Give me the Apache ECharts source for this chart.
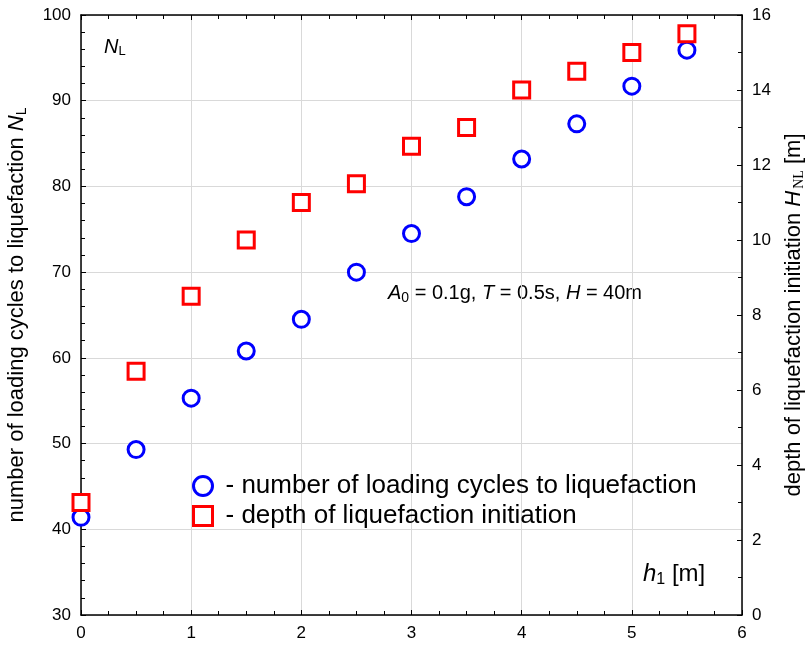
<!DOCTYPE html>
<html>
<head>
<meta charset="utf-8">
<script src="https://cdn.jsdelivr.net/npm/echarts@6/dist/echarts.min.js"></script>
<style>
  html, body { margin: 0; padding: 0; background: #fff; }
  #chart { width: 806px; height: 645px; }
</style>
</head>
<body>
<div id="chart"></div>
<script>
// depth of upper layer h1 [m]
const h1 = [0, 0.5, 1, 1.5, 2, 2.5, 3, 3.5, 4, 4.5, 5, 5.5];
// number of loading cycles to liquefaction N_L (left axis)
const cyclesNL = [41.4, 49.3, 55.3, 60.8, 64.5, 70.0, 74.5, 78.8, 83.2, 87.3, 91.7, 95.9];
// depth of liquefaction initiation H_NL [m] (right axis)
const depthHNL = [3.0, 6.5, 8.5, 10.0, 11.0, 11.5, 12.5, 13.0, 14.0, 14.5, 15.0, 15.5];

const seriesNames = ['number of loading cycles to liquefaction', 'depth of liquefaction initiation'];

const FONT = 'Liberation Sans, Arial, sans-serif';

let chart = echarts.init(document.getElementById('chart'));

function pairs(xs, ys) {
  return xs.map((x, i) => [x, ys[i]]);
}

const tickStyle = { show: true, inside: true, length: 5, lineStyle: { color: '#000', width: 1 } };
const axisLineStyle = { show: true, onZero: false, lineStyle: { color: '#000', width: 1.5 } };
const subRich = {
  i: { fontStyle: 'italic', fontSize: 22, fontFamily: FONT, color: '#000' },
  s: { fontSize: 14, fontFamily: FONT, color: '#000', padding: [10, 0, 0, 0] },
  ss: { fontSize: 14, fontFamily: 'Liberation Serif, serif', color: '#000', padding: [10, 0, 0, 2] }
};

chart.setOption({
  backgroundColor: '#fff',
  animation: false,
  grid: { left: 81, right: 64, top: 15, bottom: 30, outerBoundsMode: 'none', containLabel: false },
  xAxis: [{
    type: 'value',
    min: 0, max: 6, interval: 1,
    position: 'bottom',
    axisLine: axisLineStyle,
    axisTick: tickStyle,
    minorTick: { show: true, splitNumber: 4, length: 4, lineStyle: { color: '#000' } },
    axisLabel: { color: '#000', fontSize: 17, fontFamily: FONT, margin: 10 },
    splitLine: { show: true, lineStyle: { color: '#d9d9d9', width: 1 } }
  }, {
    type: 'value',
    min: 0, max: 6, interval: 1,
    position: 'top',
    axisLine: axisLineStyle,
    axisTick: tickStyle,
    minorTick: { show: true, splitNumber: 4, length: 4, lineStyle: { color: '#000' } },
    axisLabel: { show: false },
    splitLine: { show: false }
  }],
  yAxis: [{
    type: 'value',
    min: 30, max: 100, interval: 10,
    position: 'left',
    name: 'number of loading cycles to liquefaction {i|N}{s|L}',
    nameLocation: 'middle',
    nameGap: 52,
    nameTextStyle: { color: '#000', fontSize: 22, fontFamily: FONT, rich: subRich },
    axisLine: axisLineStyle,
    axisTick: tickStyle,
    minorTick: { show: true, splitNumber: 5, length: 4, lineStyle: { color: '#000' } },
    axisLabel: { color: '#000', fontSize: 17, fontFamily: FONT, margin: 10 },
    splitLine: { show: true, lineStyle: { color: '#d9d9d9', width: 1 } }
  }, {
    type: 'value',
    min: 0, max: 16, interval: 2,
    position: 'right',
    name: 'depth of liquefaction initiation {i|H}{ss|NL} [m]',
    nameLocation: 'middle',
    nameGap: 40,
    nameRotate: 90,
    nameTextStyle: { color: '#000', fontSize: 22, fontFamily: FONT, rich: subRich },
    axisLine: axisLineStyle,
    axisTick: tickStyle,
    minorTick: { show: true, splitNumber: 2, length: 4, lineStyle: { color: '#000' } },
    axisLabel: { color: '#000', fontSize: 17, fontFamily: FONT, margin: 10 },
    splitLine: { show: false }
  }],
  legend: {
    orient: 'vertical',
    left: 187,
    top: 468,
    itemWidth: 19,
    itemHeight: 19,
    itemGap: 4,
    formatter: name => '- ' + name,
    textStyle: { color: '#000', fontSize: 26, fontFamily: FONT, padding: [0, 0, 0, 8] },
    data: [
      { name: seriesNames[0], icon: 'circle', itemStyle: { color: '#fff', borderColor: '#0000ff', borderWidth: 3 } },
      { name: seriesNames[1], icon: 'rect', itemStyle: { color: '#fff', borderColor: '#ff0000', borderWidth: 3 } }
    ]
  },
  graphic: [{
    type: 'text',
    left: 104, top: 37,
    style: {
      text: '{i|N}{s|L}',
      rich: {
        i: { fontStyle: 'italic', fontSize: 20, fontFamily: FONT, fill: '#000' },
        s: { fontSize: 13, fontFamily: FONT, fill: '#000', padding: [9, 0, 0, 0] }
      }
    }
  }, {
    type: 'text',
    left: 388, top: 283,
    style: {
      text: '{i|A}{s|0}{t| = 0.1g, }{i|T}{t| = 0.5s, }{i|H}{t| = 40m}',
      rich: {
        i: { fontStyle: 'italic', fontSize: 20, fontFamily: FONT, fill: '#000' },
        t: { fontSize: 20, fontFamily: FONT, fill: '#000' },
        s: { fontSize: 14, fontFamily: FONT, fill: '#000', padding: [10, 0, 0, 0] }
      }
    }
  }, {
    type: 'text',
    left: 643, top: 562,
    style: {
      text: '{i|h}{s|1}{t| [m]}',
      rich: {
        i: { fontStyle: 'italic', fontSize: 24, fontFamily: FONT, fill: '#000' },
        t: { fontSize: 24, fontFamily: FONT, fill: '#000' },
        s: { fontSize: 16, fontFamily: FONT, fill: '#000', padding: [11, 0, 0, 0] }
      }
    }
  }],
  series: [{
    name: seriesNames[0],
    type: 'scatter',
    xAxisIndex: 0,
    yAxisIndex: 0,
    symbol: 'circle',
    symbolSize: 16,
    itemStyle: { color: '#fff', borderColor: '#0000ff', borderWidth: 3, opacity: 1 },
    data: pairs(h1, cyclesNL)
  }, {
    name: seriesNames[1],
    type: 'scatter',
    xAxisIndex: 0,
    yAxisIndex: 1,
    symbol: 'rect',
    symbolSize: 16,
    itemStyle: { color: '#fff', borderColor: '#ff0000', borderWidth: 3, opacity: 1 },
    data: pairs(h1, depthHNL)
  }]
});
</script>
</body>
</html>
